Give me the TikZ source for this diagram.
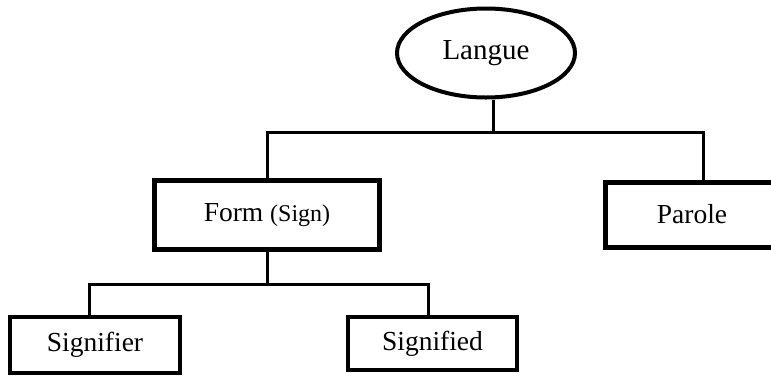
\documentclass[tikz,border=0pt]{standalone}
\usepackage{fontspec}
\setmainfont{Liberation Serif}
\usetikzlibrary{shapes.geometric}
\begin{document}
\begin{tikzpicture}[x=1pt,y=-1pt,
  boxnode/.style={draw,rectangle,inner sep=0pt,line width=5pt,font=\fontsize{27.5}{30}\selectfont},
  thinbox/.style={boxnode,line width=4pt},
  conn/.style={draw,line width=3pt,line join=miter}]
\useasboundingbox (0,0) rectangle (771,376);
\node[draw,ellipse,line width=4pt,inner sep=0pt,minimum width=178pt,minimum height=89pt,
  font=\fontsize{29}{30}\selectfont] (langue) at (486,53) {Langue};
\node[boxnode,minimum width=225pt,minimum height=69pt] (form) at (267,215)
  {\raisebox{3pt}{Form {\fontsize{24}{26}\selectfont(Sign)}}};
\node[boxnode,minimum width=173pt,minimum height=65pt] (parole) at (692,215) {\raisebox{3pt}{Parole}};
\node[thinbox,minimum width=170pt,minimum height=56pt] (signifier) at (95,345) {Signifier};
\node[thinbox,minimum width=169pt,minimum height=53pt] (signified) at (432.5,343.5) {Signified};
\coordinate (j1) at (493,132);
\coordinate (hl) at (267,132);
\coordinate (hr) at (703,132);
\coordinate (j2) at (267,284);
\coordinate (l1) at (89,284);
\coordinate (l2) at (428,284);
\draw[conn] (j1 |- langue.south) -- (j1);
\draw[conn] (form.north) -- (hl) -- (hr) -- (hr |- parole.north);
\draw[conn] (form.south) -- (j2);
\draw[conn] (l1 |- signifier.north) -- (l1) -- (l2) -- (l2 |- signified.north);
\end{tikzpicture}
\end{document}
